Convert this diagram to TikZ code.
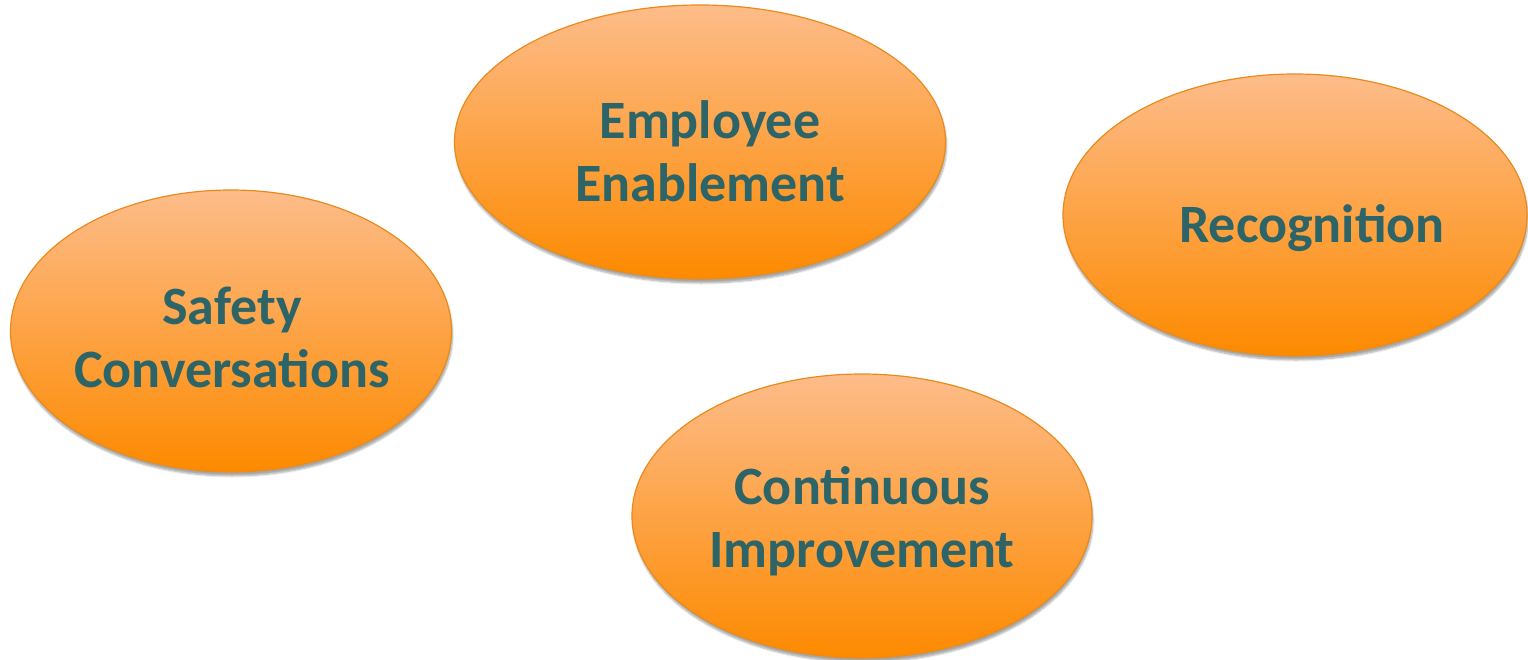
\documentclass[tikz,border=0pt]{standalone}
\usepackage{fontspec}
\setmainfont{Carlito}
\usetikzlibrary{shapes.geometric,shadows.blur}
\definecolor{ovtop}{HTML}{FDBC8A}
\definecolor{ovbot}{HTML}{FD8A00}
\definecolor{ovline}{HTML}{E98B1C}
\definecolor{txt}{HTML}{2C6468}
\tikzset{
  oval/.style={ellipse, draw=ovline, line width=1.2pt, top color=ovtop, bottom color=ovbot,
    inner sep=0pt, blur shadow={shadow xshift=1pt, shadow yshift=-4pt, shadow blur steps=6, shadow opacity=35}},
  lbl/.style={text=txt, align=center, font=\fontsize{54}{63}\selectfont\bfseries, inner sep=0pt}
}
\begin{document}
\begin{tikzpicture}[x=1pt,y=-1pt]
\useasboundingbox (0,0) rectangle (1528,660);
\node[oval, minimum width=491pt, minimum height=274pt] (emp) at (700,142) {};
\node[oval, minimum width=441pt, minimum height=282pt] (saf) at (231,331) {};
\node[oval, minimum width=464pt, minimum height=282pt] (rec) at (1295,215) {};
\node[oval, minimum width=460pt, minimum height=284pt] (con) at (862,516) {};
\node[lbl] (empt) at (710,151) {Employee\\Enablement};
\node[lbl] (saft) at (232,337) {Safety\\Conversations};
\node[lbl] (rect) at (1312,228) {Recognition};
\node[lbl] (cont) at (862,521) {Continuous\\Improvement};
\end{tikzpicture}
\end{document}
